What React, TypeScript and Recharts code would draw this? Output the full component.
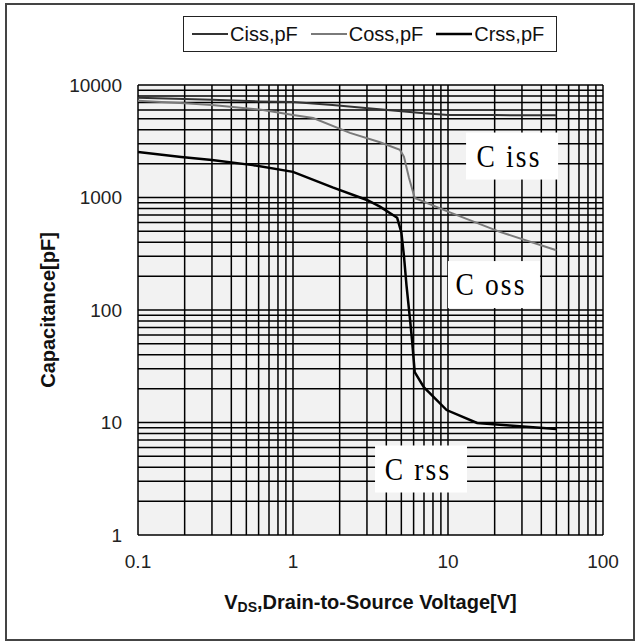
import React from "react";
import {
  LineChart,
  Line,
  XAxis,
  YAxis,
  CartesianGrid,
  ReferenceDot,
} from "recharts";

// V_DS [V] / capacitance [pF]
const CISS_V = [0.1, 0.3, 0.6, 1, 1.8, 3.6, 5, 7, 10, 20, 50];
const CISS_PF = [7700, 7400, 7150, 7050, 6650, 6100, 5850, 5600, 5420, 5400, 5380];

const COSS_V = [0.1, 0.2, 0.3, 0.64, 1, 1.35, 2.33, 3.64, 4.9, 5.2, 5.6, 6.1, 10, 21.6, 50];
const COSS_PF = [7250, 6900, 6650, 6000, 5400, 5090, 3750, 3100, 2650, 2300, 1500, 990, 750, 495, 340];

const CRSS_V = [0.1, 0.19, 0.3, 0.55, 1, 1.8, 3, 3.64, 4.7, 5, 5.2, 5.4, 5.7, 5.86, 6.1, 7, 7.6, 9.8, 15.4, 25, 50];
const CRSS_PF = [2540, 2290, 2150, 1940, 1690, 1230, 950, 830, 660, 490, 300, 165, 80, 54, 28, 20.5, 18.3, 12.9, 9.9, 9.4, 8.75];

const SERIES_NAMES = ["Ciss,pF", "Coss,pF", "Crss,pF"];
const SERIES_COLORS = ["#333333", "#7a7a7a", "#000000"];

const X_DECADES = [0.1, 1, 10];
const Y_DECADES = [1, 10, 100, 1000];
const STEPS = [1, 2, 3, 4, 5, 6, 7, 8, 9];
const X_LABELS = [0.1, 1, 10, 100];
const Y_LABELS = [1, 10, 100, 1000, 10000];

// annotation anchors (data space)
const NOTE_TEXT = ["C iss", "C oss", "C rss"];
const NOTE_V = [25.9, 19.8, 6.7];
const NOTE_PF = [2360, 170, 3.9];

const X_TICKS = [...X_DECADES.flatMap((d) => STEPS.map((s) => +(d * s).toPrecision(3))), 100];
const Y_TICKS = [...Y_DECADES.flatMap((d) => STEPS.map((s) => d * s)), 10000];

const toRows = (vs: number[], cs: number[]) => vs.map((v, i) => ({ v, c: cs[i] }));
const seriesData = [toRows(CISS_V, CISS_PF), toRows(COSS_V, COSS_PF), toRows(CRSS_V, CRSS_PF)];

const FONT = "'Liberation Sans', Arial, sans-serif";

function NoteBox(props: any) {
  const { cx, cy, text } = props;
  if (cx == null || cy == null) return null;
  return (
    <g>
      <rect x={cx - 46} y={cy - 23} width={92} height={47} fill="#ffffff" />
      <text
        transform={`translate(${cx - 3},${cy + 11}) scale(0.86,1)`}
        textAnchor="middle"
        fontFamily="'Liberation Serif', 'Times New Roman', serif"
        fontSize={32}
        letterSpacing={2.5}
        fill="#000"
      >
        {text}
      </text>
    </g>
  );
}

function YTitle(props: any) {
  const vb = props.viewBox;
  const x = vb.x + 48;
  const y = vb.y + vb.height / 2;
  return (
    <text
      x={x}
      y={y}
      transform={`rotate(-90,${x},${y})`}
      textAnchor="middle"
      dominantBaseline="central"
      fontFamily={FONT}
      fontWeight="bold"
      fontSize={20}
      fill="#111"
    >
      Capacitance[pF]
    </text>
  );
}

function XTitle(props: any) {
  const vb = props.viewBox;
  return (
    <text
      x={vb.x + vb.width / 2}
      y={vb.y + 74}
      textAnchor="middle"
      fontFamily={FONT}
      fontWeight="bold"
      fontSize={20}
      fill="#111"
    >
      V
      <tspan fontSize={14} dy={3}>
        DS
      </tspan>
      <tspan dy={-3}>,Drain-to-Source Voltage[V]</tspan>
    </text>
  );
}

function LegendBox() {
  return (
    <div
      style={{
        position: "absolute",
        left: 183,
        top: 16,
        width: 372,
        height: 34,
        border: "1.5px solid #222",
        background: "#fff",
        display: "flex",
        alignItems: "center",
        fontFamily: FONT,
        fontSize: 20,
        color: "#111",
      }}
    >
      {SERIES_NAMES.map((name, i) => (
        <div key={name} style={{ display: "flex", alignItems: "center", marginLeft: i === 0 ? 8 : 13 }}>
          <svg width={36} height={6}>
            <line x1={0} y1={3} x2={36} y2={3} stroke={SERIES_COLORS[i]} strokeWidth={i === 2 ? 2.5 : 2} />
          </svg>
          <span style={{ marginLeft: 2 }}>{name}</span>
        </div>
      ))}
    </div>
  );
}

export default function App() {
  return (
    <div style={{ position: "absolute", left: 0, top: 0, width: 639, height: 642, background: "#fff" }}>
      <div
        style={{
          position: "absolute",
          left: 5,
          top: 3,
          width: 626,
          height: 634,
          border: "2px solid #444",
        }}
      />
      <LineChart
        width={639}
        height={642}
        margin={{ top: 85, right: 36, bottom: 77, left: 0 }}
        style={{ position: "absolute", left: 0, top: 0 }}
      >
        <CartesianGrid stroke="#000" strokeWidth={1.5} fill="#f2f2f2" fillOpacity={1} />
        <XAxis
          type="number"
          dataKey="v"
          scale="log"
          domain={[0.1, 100]}
          allowDataOverflow
          ticks={X_TICKS}
          interval={0}
          height={30}
          axisLine={false}
          tickLine={false}
          tickMargin={14}
          tick={{ fontFamily: FONT, fontSize: 19, fill: "#222" }}
          tickFormatter={(v: number) => (X_LABELS.includes(v) ? String(v) : "")}
          label={{ content: XTitle }}
        />
        <YAxis
          type="number"
          scale="log"
          domain={[1, 10000]}
          allowDataOverflow
          ticks={Y_TICKS}
          interval={0}
          width={138}
          axisLine={false}
          tickLine={false}
          tickMargin={10}
          tick={{ fontFamily: FONT, fontSize: 19, fill: "#222" }}
          tickFormatter={(v: number) => (Y_LABELS.includes(v) ? String(v) : "")}
          label={{ content: YTitle }}
        />
        {NOTE_TEXT.map((t, i) => (
          <ReferenceDot
            key={t}
            x={NOTE_V[i]}
            y={NOTE_PF[i]}
            shape={(p: any) => <NoteBox {...p} text={t} />}
          />
        ))}
        {seriesData.map((rows, i) => (
          <Line
            key={SERIES_NAMES[i]}
            data={rows}
            dataKey="c"
            name={SERIES_NAMES[i]}
            type="linear"
            stroke={SERIES_COLORS[i]}
            strokeWidth={i === 2 ? 2.5 : 2}
            dot={false}
            activeDot={false}
            isAnimationActive={false}
          />
        ))}
      </LineChart>
      <LegendBox />
    </div>
  );
}
